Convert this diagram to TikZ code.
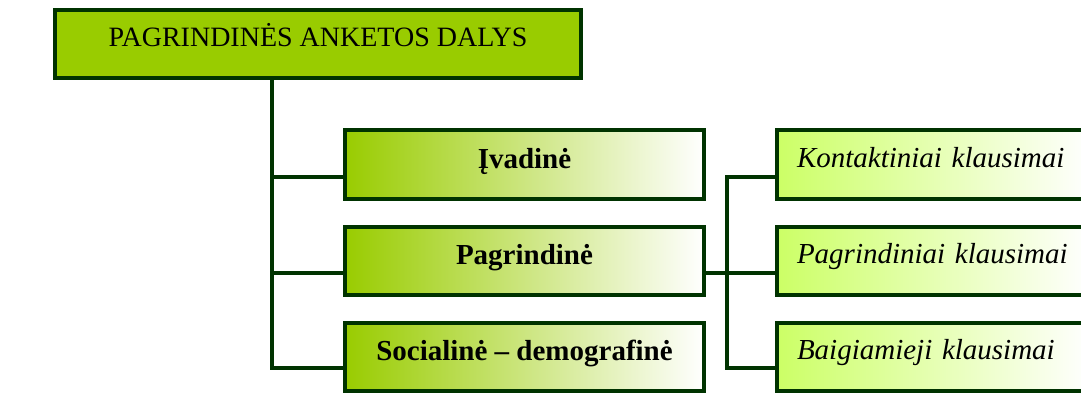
\documentclass[tikz,border=0pt]{standalone}
\usepackage{fontspec}
\setmainfont{Liberation Serif}
\definecolor{edge}{HTML}{003300}
\definecolor{leaf}{HTML}{99CC00}
\definecolor{lime}{HTML}{CCFF66}
\tikzset{
  conn/.style={draw=edge, line width=4pt, line join=miter},
  boxbase/.style={draw=edge, line width=4pt, inner sep=0pt, minimum height=68pt},
  headbox/.style={boxbase, fill=leaf, minimum width=526pt,
    font=\fontsize{28}{32}\selectfont, text height=20pt, text depth=14pt},
  partbox/.style={boxbase, left color=leaf, right color=white, minimum width=359pt,
    font=\bfseries\fontsize{29}{33}\selectfont, text height=20pt, text depth=12pt},
  qbox/.style={boxbase, left color=lime, right color=white, inner xsep=20pt,
    text width=273pt, align=left,
    font=\itshape\fontsize{29}{33}\selectfont, text height=20pt, text depth=14pt},
}
\begin{document}
\begin{tikzpicture}[x=1pt, y=-1pt]
\clip (0,0) rectangle (1081,393);
\fill[white] (0,0) rectangle (1081,393);

% main heading
\node[headbox] (head) at (318,44) {PAGRINDINĖS ANKETOS DALYS};

% the three parts of the questionnaire
\node[partbox] (ivad) at (524.5,164.5) {Įvadinė};
\node[partbox] (pagr) at (524.5,260.5) {Pagrindinė};
\node[partbox] (soc)  at (524.5,356.5) {Socialinė – demografinė};

% question groups of the main part
\node[qbox] (kont) at (933.5,164.5) {Kontaktiniai klausimai};
\node[qbox] (pkl)  at (933.5,260.5) {Pagrindiniai klausimai};
\node[qbox] (baig) at (933.5,356.5) {Baigiamieji klausimai};

% attachment points
\coordinate (trunk) at (272,0);
\coordinate (fork) at (727,0);
\coordinate (a1) at ([yshift=-12.5pt]ivad.west);
\coordinate (a2) at ([yshift=-12.5pt]pagr.west);
\coordinate (a3) at ([yshift=-11.5pt]soc.west);
\coordinate (b1) at ([yshift=-12.5pt]kont.west);
\coordinate (b2) at ([yshift=-12.5pt]pkl.west);
\coordinate (b3) at ([yshift=-11.5pt]baig.west);

% tree on the left
\draw[conn] (head.south -| trunk) |- (a3);
\draw[conn] (a1 -| trunk) -- (a1);
\draw[conn] (a2 -| trunk) -- (a2);

% bracket on the right
\draw[conn] (b1) -- (b1 -| fork) -- (b3 -| fork) -- (b3);
\draw[conn] (pagr.east |- b2) -- (b2);
\end{tikzpicture}
\end{document}
